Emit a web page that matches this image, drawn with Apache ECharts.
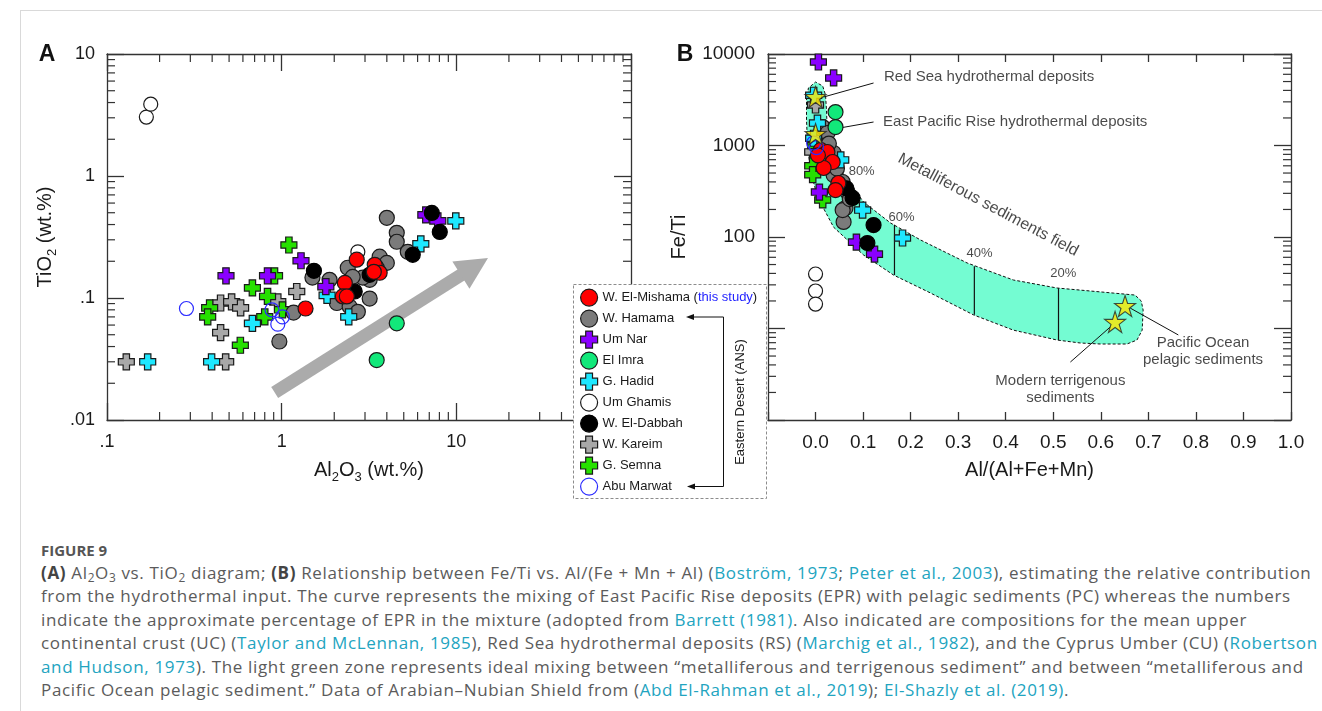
<!DOCTYPE html>
<html lang="en">
<head>
<meta charset="utf-8">
<title>Figure 9</title>
<script src="https://cdn.jsdelivr.net/npm/echarts@6.0.0/dist/echarts.min.js"></script>
<style>
  html, body { margin: 0; padding: 0; background: #fff; }
  #page { position: relative; width: 1322px; height: 711px; overflow: hidden; }
  #frame {
    position: absolute; left: 20px; top: 10px; width: 1302px; height: 701px;
    border-top: 1px solid #d9d9d9; border-left: 1px solid #d9d9d9; box-sizing: border-box;
  }
  #chart { position: absolute; left: 0; top: 0; width: 1322px; height: 520px; }
  #caption {
    position: absolute; left: 41px; top: 540px; color: #5b5b5b;
    font-family: "Open Sans", Lato, sans-serif; font-size: 17px; letter-spacing: 0.65px;
  }
  #caption .fig { font-size: 15px; font-weight: 700; color: #555; line-height: 21px; height: 21px; letter-spacing: 0; }
  #caption .ln { white-space: nowrap; line-height: 23.4px; }
  #caption b { color: #444; }
  #caption a { color: #22a4bf; text-decoration: none; }
  #caption sub { font-size: 0.7em; line-height: 0; vertical-align: -0.25em; }
</style>
</head>
<body>
<div id="page">
  <div id="frame"></div>
  <div id="chart"></div>
  <div id="caption">
    <div class="fig">FIGURE 9</div>
    <div class="ln"><b>(A)</b> Al<sub>2</sub>O<sub>3</sub> vs. TiO<sub>2</sub> diagram; <b>(B)</b> Relationship between Fe/Ti vs. Al/(Fe + Mn + Al) (<a>Boström, 1973</a>; <a>Peter et al., 2003</a>), estimating the relative contribution</div>
    <div class="ln">from the hydrothermal input. The curve represents the mixing of East Pacific Rise deposits (EPR) with pelagic sediments (PC) whereas the numbers</div>
    <div class="ln">indicate the approximate percentage of EPR in the mixture (adopted from <a>Barrett (1981)</a>. Also indicated are compositions for the mean upper</div>
    <div class="ln">continental crust (UC) (<a>Taylor and McLennan, 1985</a>), Red Sea hydrothermal deposits (RS) (<a>Marchig et al., 1982</a>), and the Cyprus Umber (CU) (<a>Robertson</a></div>
    <div class="ln"><a>and Hudson, 1973</a>). The light green zone represents ideal mixing between “metalliferous and terrigenous sediment” and between “metalliferous and</div>
    <div class="ln">Pacific Ocean pelagic sediment.” Data of Arabian–Nubian Shield from (<a>Abd El-Rahman et al., 2019</a>); <a>El-Shazly et al. (2019)</a>.</div>
  </div>
</div>

<script>
// ---------- panel A : Al2O3 (wt.%) vs TiO2 (wt.%) ----------
const elMishamaA = [[1.37,0.082],[2.69,0.206],[3.41,0.187],[3.64,0.161],[3.37,0.164],[2.30,0.133],[2.24,0.103],[2.36,0.103]];
const hamamaA = [[4.00,0.454],[4.56,0.342],[4.56,0.289],[5.27,0.239],[0.97,0.044],[1.17,0.076],[1.88,0.141],[1.50,0.147],
  [2.39,0.177],[2.07,0.091],[2.45,0.085],[2.73,0.077],[3.19,0.099],[3.64,0.218],[4.00,0.194],[3.19,0.141],[2.91,0.147],[3.50,0.177],[2.55,0.149]];
const umNarA = [[0.48,0.152],[0.83,0.152],[1.29,0.202],[1.79,0.124],[6.69,0.48],[7.83,0.429]];
const elImraA = [[4.56,0.062],[3.50,0.031]];
const hadidA = [[0.171,0.030],[0.397,0.030],[0.68,0.062],[2.42,0.070],[1.82,0.105],[6.26,0.278],[9.93,0.429]];
const umGhamisA = [[0.168,3.04],[0.178,3.88],[2.73,0.239]];
const dabbahA = [[1.53,0.167],[2.62,0.113],[5.63,0.226],[8.04,0.348],[7.24,0.498],[3.19,0.155]];
const kareimA = [[0.129,0.030],[0.447,0.091],[0.517,0.093],[0.582,0.083],[0.447,0.052],[0.478,0.030],[1.22,0.113],[0.95,0.093]];
const semnaA = [[1.10,0.272],[0.68,0.121],[0.91,0.152],[0.83,0.103],[0.387,0.083],[0.377,0.070],[0.80,0.070],[1.01,0.080],[0.58,0.041]];
const abuMarwatA = [[0.285,0.082],[0.88,0.080],[1.01,0.070],[0.95,0.061]];
const trendArrowA = [[0.912,0.0168],[12.7,0.181]];   // tail, head

// ---------- panel B : Al/(Al+Fe+Mn) vs Fe/Ti ----------
const elMishamaB = [[0.011,893],[0.025,849],[0.036,660],[0.017,568],[0.048,389],[0.042,326],[0.005,780]];
const hamamaB = [[0.015,1590],[0.025,1370],[0.038,828],[0.038,476],[0.057,399],[0.067,310],[0.063,207],[0.059,146],
  [0.057,197],[0.045,560],[0.028,1050],[0.072,260]];
const umNarB = [[0.006,8180],[0.038,5470],[0.086,88],[0.124,65],[0.008,310]];
const elImraB = [[0.042,2320],[0.042,1590]];
const hadidB = [[-0.004,3540],[0.004,1760],[0.053,695],[0.099,197],[0.183,97.5],[-0.004,1200]];
const umGhamisB = [[0,39.4],[0,25.7],[0,18.5]];
const dabbahB = [[0.078,267],[0.122,135],[0.109,86],[0.065,340]];
const kareimB = [[0,2770],[-0.006,850]];
const semnaB = [[0.015,254],[-0.006,600],[-0.006,480],[0,1000]];
const abuMarwatB = [[-0.004,1065],[0.002,950]];

// reference compositions (stars): Red Sea, EPR, Pacific pelagic, modern terrigenous
const refStarsB = [[0,3390],[0,1336],[0.651,17.6],[0.630,11.8]];
const leaderLinesB = [[[0.017,3390],[0.122,4820]],[[0.027,1477],[0.122,1806]],[[0.662,16.7],[0.763,8.5]],[[0.620,10.4],[0.536,4.3]]];
const noteLeftText = ['Red Sea hydrothermal deposits','East Pacific Rise hydrothermal deposits'];
const noteLeftPos = [[0.143,5610],[0.141,1807]];
const noteMidText = ['Pacific Ocean\npelagic sediments','Modern terrigenous\nsediments'];
const noteMidPos = [[0.815,5.68],[0.515,2.18]];
const fieldLabelPos = [[0.363,224]];
const pctText = ['80%','60%','40%','20%'];
const pctPos = [[0.097,525],[0.181,165],[0.345,66.8],[0.521,40.4]];

// mixing field outline and tie lines [x, yTop, yBottom]
const fieldOutline = [[-0.019,3140],[-0.015,4250],[0,4940],[0.015,4470],[0.021,3565],[0.023,2440],[0.025,1303],
  [0.036,787],[0.053,540],[0.067,420],[0.101,241],[0.158,142],[0.221,92.7],[0.319,52],[0.416,33.9],[0.508,27.7],
  [0.626,24.4],[0.672,23.2],[0.685,20],[0.689,15.9],[0.687,9.6],[0.676,7.48],[0.655,6.77],[0.599,6.77],[0.557,6.94],
  [0.508,7.48],[0.416,9.6],[0.332,14.1],[0.242,24.4],[0.164,38.4],[0.101,63.6],[0.038,128],[0.004,274],
  [-0.011,540],[-0.017,1065],[-0.019,1900]];
const tieLines = [[0.166,136,38.4],[0.334,48,14.1],[0.511,27.6,7.5]];

const legendOrder = ['W. El-Mishama','W. Hamama','Um Nar','El Imra','G. Hadid','Um Ghamis','W. El-Dabbah','W. Kareim','G. Semna','Abu Marwat'];
const drawOrder = ['W. Kareim','G. Semna','Um Ghamis','W. Hamama','El Imra','G. Hadid','Um Nar','W. El-Dabbah','W. El-Mishama','Abu Marwat'];

const CROSS = 'path://M3,0h4v3h3v4h-3v3h-4v-3h-3v-4h3z';
const STAR = 'path://M50,0L61.8,35.3L99,35.3L69.1,57.3L80.9,92.7L50,70.8L19.1,92.7L30.9,57.3L1,35.3L38.2,35.3Z';

const groupData = {
  'W. El-Mishama': [elMishamaA, elMishamaB],
  'W. Hamama': [hamamaA, hamamaB],
  'Um Nar': [umNarA, umNarB],
  'El Imra': [elImraA, elImraB],
  'G. Hadid': [hadidA, hadidB],
  'Um Ghamis': [umGhamisA, umGhamisB],
  'W. El-Dabbah': [dabbahA, dabbahB],
  'W. Kareim': [kareimA, kareimB],
  'G. Semna': [semnaA, semnaB],
  'Abu Marwat': [abuMarwatA, abuMarwatB]
};
const markStyle = {
  'W. El-Mishama': { symbol: 'circle', size: 15, fill: '#ff0000', stroke: '#1a1a1a' },
  'W. Hamama': { symbol: 'circle', size: 15, fill: '#7b7b7b', stroke: '#1a1a1a' },
  'Um Nar': { symbol: CROSS, size: 16, fill: '#8a00ff', stroke: '#1a1a1a' },
  'El Imra': { symbol: 'circle', size: 15, fill: '#12e87a', stroke: '#1a1a1a' },
  'G. Hadid': { symbol: CROSS, size: 16, fill: '#1ee8ff', stroke: '#1a1a1a' },
  'Um Ghamis': { symbol: 'circle', size: 14, fill: '#ffffff', stroke: '#1a1a1a' },
  'W. El-Dabbah': { symbol: 'circle', size: 15, fill: '#000000', stroke: '#000000' },
  'W. Kareim': { symbol: CROSS, size: 16, fill: '#a8a8a8', stroke: '#1a1a1a' },
  'G. Semna': { symbol: CROSS, size: 16, fill: '#26e000', stroke: '#1a1a1a' },
  'Abu Marwat': { symbol: 'circle', size: 14, fill: 'rgba(255,255,255,0)', stroke: '#2b2bff' }
};

const FONT = "'Liberation Sans', Arial, Helvetica, sans-serif";
const INK = '#1a1a1a';
const axisLineSt = { color: '#333', width: 1.3 };

function decadeLabel(v) {
  const n = Number(Number(v).toPrecision(3));
  return n < 1 ? String(n).replace(/^0/, '') : String(n);
}
function minorValues(e0, e1) {
  const out = [];
  for (let e = e0; e < e1; e++) for (let m = 2; m <= 9; m++) out.push(m * Math.pow(10, e));
  return out;
}
const nameRich = {
  n: { fontFamily: FONT, fontSize: 20, color: INK, lineHeight: 28 },
  s: { fontFamily: FONT, fontSize: 13, color: INK, verticalAlign: 'bottom' }
};

function axis(opt, tickLen, label) {
  return Object.assign({
    axisLine: { show: true, onZero: false, lineStyle: axisLineSt },
    axisTick: { show: true, inside: true, length: tickLen, lineStyle: axisLineSt },
    axisLabel: label || { show: false },
    splitLine: { show: false }
  }, opt);
}

function tickSeries(idx, xr, yr, xMinor, yMinor) {
  return {
    type: 'custom', xAxisIndex: idx, yAxisIndex: idx, z: 3, silent: true, clip: false,
    data: [[xr[0], yr[0]]],
    renderItem: (params, api) => {
      const lo = api.coord([xr[0], yr[0]]);
      const hi = api.coord([xr[1], yr[1]]);
      const st = { stroke: '#333', lineWidth: 1.2 };
      const L = 8;
      const kids = [];
      const seg = (x1, y1, x2, y2) => ({ type: 'line', shape: { x1, y1, x2, y2 }, style: st });
      xMinor.forEach(v => {
        const x = api.coord([v, yr[0]])[0];
        kids.push(seg(x, lo[1], x, lo[1] - L), seg(x, hi[1], x, hi[1] + L));
      });
      yMinor.forEach(v => {
        const y = api.coord([xr[0], v])[1];
        kids.push(seg(lo[0], y, lo[0] + L, y), seg(hi[0], y, hi[0] - L, y));
      });
      return { type: 'group', children: kids };
    }
  };
}

const series = [];

// trend arrow (panel A)
series.push({
  type: 'scatter', xAxisIndex: 0, yAxisIndex: 0, z: 2, silent: true,
  data: trendArrowA, symbolSize: 0, itemStyle: { color: 'rgba(0,0,0,0)' },
  markLine: {
    silent: true, animation: false, symbol: ['none', 'triangle'], symbolSize: 32,
    label: { show: false }, emphasis: { disabled: true },
    lineStyle: { color: '#ababab', width: 13, type: 'solid', opacity: 1 },
    data: [[{ coord: trendArrowA[0] }, { coord: trendArrowA[1] }]]
  }
});

// mixing field (panel B)
series.push({
  type: 'custom', xAxisIndex: 1, yAxisIndex: 1, z: 1, silent: true, clip: false,
  data: [[0.3, 30]],
  renderItem: (params, api) => {
    const pts = fieldOutline.map(p => api.coord(p));
    const kids = [{
      type: 'polygon', shape: { points: pts },
      style: { fill: '#74fcd2', stroke: '#111', lineWidth: 1, lineDash: [3, 2] }
    }];
    tieLines.forEach(t => {
      const a = api.coord([t[0], t[1]]);
      const b = api.coord([t[0], t[2]]);
      kids.push({ type: 'line', shape: { x1: a[0], y1: a[1], x2: b[0], y2: b[1] }, style: { stroke: '#111', lineWidth: 1.2 } });
    });
    return { type: 'group', children: kids };
  }
});

series.push(tickSeries(0, [0.1, 100], [0.01, 10], minorValues(-1, 2), minorValues(-2, 1)));
series.push(tickSeries(1, [-0.1, 1], [1, 10000], [], minorValues(0, 4)));

drawOrder.forEach(name => {
  const st = markStyle[name];
  [0, 1].forEach(p => {
    series.push({
      name, type: 'scatter', xAxisIndex: p, yAxisIndex: p, z: 5, silent: true,
      data: groupData[name][p], symbol: st.symbol, symbolSize: st.size,
      itemStyle: { color: st.fill, borderColor: st.stroke, borderWidth: 1.2, opacity: 1 },
      emphasis: { disabled: true }
    });
  });
});

// reference stars + leader lines
series.push({
  type: 'scatter', xAxisIndex: 1, yAxisIndex: 1, z: 6, silent: true,
  data: refStarsB, symbol: STAR, symbolSize: 21,
  itemStyle: { color: '#ffe600', borderColor: '#222', borderWidth: 1.1 },
  markLine: {
    silent: true, animation: false, symbol: ['none', 'none'], label: { show: false },
    lineStyle: { color: '#111', width: 1, type: 'solid' }, emphasis: { disabled: true },
    data: leaderLinesB.map(l => [{ coord: l[0] }, { coord: l[1] }])
  }
});

const noteLabel = { fontFamily: FONT, fontSize: 15, color: INK };
series.push({
  type: 'scatter', xAxisIndex: 1, yAxisIndex: 1, z: 7, silent: true,
  data: noteLeftPos, symbolSize: 1, itemStyle: { color: 'rgba(0,0,0,0)' },
  label: Object.assign({ show: true, position: 'right', distance: 0, formatter: p => noteLeftText[p.dataIndex] }, noteLabel)
});
series.push({
  type: 'scatter', xAxisIndex: 1, yAxisIndex: 1, z: 7, silent: true,
  data: noteMidPos, symbolSize: 1, itemStyle: { color: 'rgba(0,0,0,0)' },
  label: Object.assign({ show: true, position: 'inside', align: 'center', lineHeight: 17, formatter: p => noteMidText[p.dataIndex] }, noteLabel)
});
series.push({
  type: 'scatter', xAxisIndex: 1, yAxisIndex: 1, z: 7, silent: true,
  data: fieldLabelPos, symbolSize: 1, itemStyle: { color: 'rgba(0,0,0,0)' },
  label: Object.assign({ show: true, position: 'inside', rotate: -28, formatter: 'Metalliferous sediments field' }, noteLabel, { fontSize: 16 })
});
series.push({
  type: 'scatter', xAxisIndex: 1, yAxisIndex: 1, z: 8, silent: true,
  data: pctPos, symbolSize: 1, itemStyle: { color: 'rgba(0,0,0,0)' },
  label: { show: true, position: 'inside', fontFamily: FONT, fontSize: 13, color: INK, formatter: p => pctText[p.dataIndex] }
});

const tickFontA = { show: true, fontFamily: FONT, fontSize: 18, color: INK };
const tickFontB = { show: true, fontFamily: FONT, fontSize: 19, color: INK };

const option = {
  animation: false,
  backgroundColor: 'transparent',
  grid: [
    { left: 107, top: 54, width: 524, height: 366 },
    { left: 768, top: 54, width: 523, height: 366 }
  ],
  xAxis: [
    axis({ gridIndex: 0, type: 'log', min: 0.1, max: 100, position: 'bottom',
      name: '{n|Al}{s|2}{n|O}{s|3}{n| (wt.%)}', nameLocation: 'middle', nameGap: 36, nameTextStyle: { rich: nameRich } },
      17, Object.assign({ margin: 13, formatter: v => (v > 50 ? '' : decadeLabel(v)) }, tickFontA)),
    axis({ gridIndex: 1, type: 'value', min: -0.1, max: 1, interval: 0.1, position: 'bottom',
      name: '{n|Al/(Al+Fe+Mn)}', nameLocation: 'middle', nameGap: 36, nameTextStyle: { rich: nameRich } },
      8, Object.assign({ margin: 13, formatter: v => (v < -0.05 ? '' : Number(v).toFixed(1)) }, tickFontB)),
    axis({ gridIndex: 0, type: 'log', min: 0.1, max: 100, position: 'top' }, 17),
    axis({ gridIndex: 1, type: 'value', min: -0.1, max: 1, interval: 0.1, position: 'top' }, 8)
  ],
  yAxis: [
    axis({ gridIndex: 0, type: 'log', min: 0.01, max: 10, position: 'left',
      name: '{n|TiO}{s|2}{n| (wt.%)}', nameLocation: 'middle', nameGap: 48, nameRotate: 90, nameTextStyle: { rich: nameRich } },
      17, Object.assign({ margin: 12, formatter: v => decadeLabel(v) }, tickFontA)),
    axis({ gridIndex: 1, type: 'log', min: 1, max: 10000, position: 'left',
      name: '{n|Fe/Ti}', nameLocation: 'middle', nameGap: 75, nameRotate: 90, nameTextStyle: { rich: nameRich } },
      17, Object.assign({ margin: 13, formatter: v => (v < 50 ? '' : String(Math.round(v))) }, tickFontB)),
    axis({ gridIndex: 0, type: 'log', min: 0.01, max: 10, position: 'right' }, 17),
    axis({ gridIndex: 1, type: 'log', min: 1, max: 10000, position: 'right' }, 17)
  ],
  legend: {
    data: legendOrder, orient: 'vertical', left: 575, top: 283.5, padding: 5,
    itemWidth: 17, itemHeight: 17, itemGap: 2.8, selectedMode: false, z: 120,
    itemStyle: { borderWidth: 1.2, borderColor: 'inherit' },
    textStyle: { fontFamily: FONT, fontSize: 13, color: INK,
      rich: { link: { fontFamily: FONT, fontSize: 13, color: '#2424ff' } } },
    formatter: name => (name === 'W. El-Mishama' ? name + ' ({link|this study})' : name)
  },
  graphic: {
    elements: [
      { type: 'rect', z: 100, silent: true, shape: { x: 573.5, y: 284.5, width: 193, height: 214 },
        style: { fill: '#fff', stroke: '#8c8c8c', lineWidth: 1, lineDash: [3, 2] } },
      { type: 'polyline', z: 130, silent: true, shape: { points: [[692, 317], [723.5, 317], [723.5, 486.5], [693, 486.5]] },
        style: { fill: null, stroke: '#111', lineWidth: 1 } },
      { type: 'polygon', z: 130, silent: true, shape: { points: [[686, 317], [694, 314], [694, 320]] }, style: { fill: '#111' } },
      { type: 'polygon', z: 130, silent: true, shape: { points: [[687, 486.5], [695, 483.5], [695, 489.5]] }, style: { fill: '#111' } },
      { type: 'text', z: 130, silent: true, x: 740, y: 402, rotation: Math.PI / 2,
        style: { text: 'Eastern Desert (ANS)', font: '13px ' + FONT, fill: INK, textAlign: 'center', textVerticalAlign: 'middle' } },
      { type: 'text', z: 10, silent: true, x: 47, y: 55,
        style: { text: 'A', font: 'bold 23px ' + FONT, fill: '#111', textAlign: 'center', textVerticalAlign: 'middle' } },
      { type: 'text', z: 10, silent: true, x: 685, y: 55,
        style: { text: 'B', font: 'bold 23px ' + FONT, fill: '#111', textAlign: 'center', textVerticalAlign: 'middle' } }
    ]
  },
  series
};

const chart = echarts.init(document.getElementById('chart'), null, { renderer: 'canvas' });
chart.setOption(option);
</script>
</body>
</html>
